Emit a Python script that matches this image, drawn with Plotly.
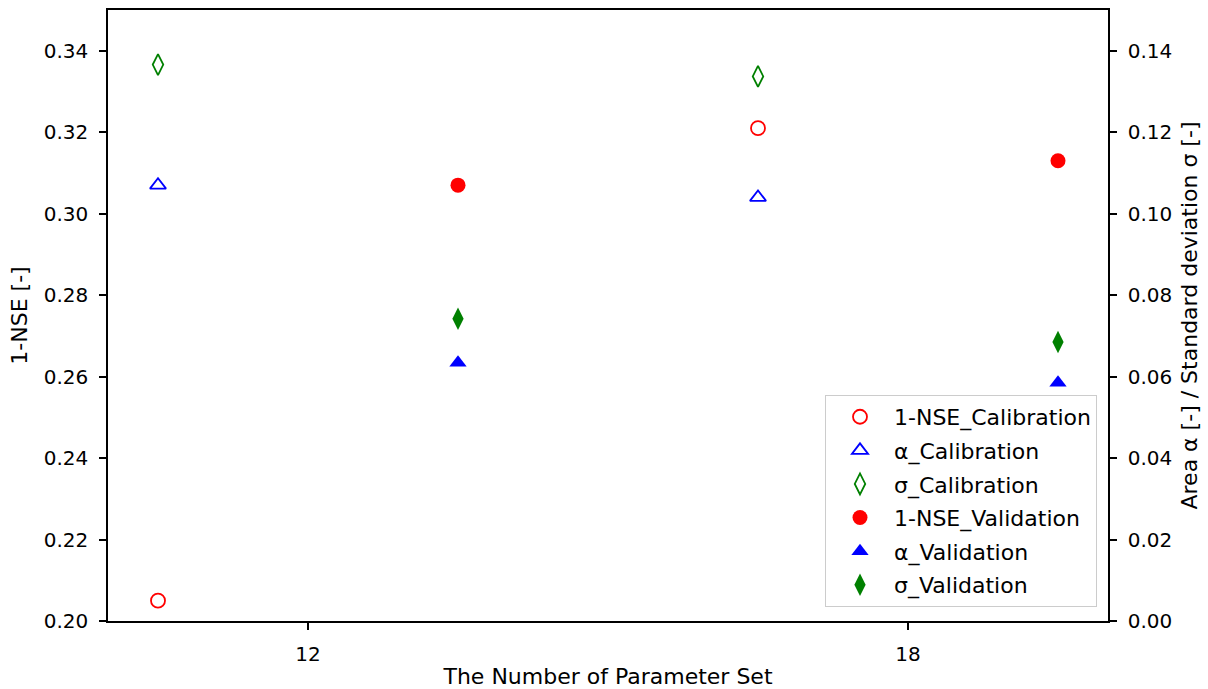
import plotly.graph_objects as go

# Data
x_cal = [10.5, 16.5]
x_val = [13.5, 19.5]
nse_cal = [0.205, 0.321]
nse_val = [0.307, 0.313]
alpha_cal = [0.107, 0.104]
sigma_cal = [0.1366, 0.1337]
alpha_val = [0.0634, 0.0585]
sigma_val = [0.0742, 0.0685]

x_ticks = [12, 18]
y1_ticks = [0.20, 0.22, 0.24, 0.26, 0.28, 0.30, 0.32, 0.34]
y2_ticks = [0.00, 0.02, 0.04, 0.06, 0.08, 0.10, 0.12, 0.14]

FONT = "DejaVu Sans"
FS_TICK = 20
FS_LAB = 22

fig = go.Figure()

def add(x, y, name, symbol, color, filled, axis, size):
    marker = dict(symbol=symbol, size=size, color=color,
                  line=dict(color=color, width=1.8 if not filled else 0))
    fig.add_trace(go.Scatter(x=x, y=y, mode="markers", name=name,
                             marker=marker, yaxis=axis, legendgroup=name))

add(x_cal, nse_cal, "1-NSE_Calibration", "circle-open", "red", False, "y", 14)
add(x_cal, alpha_cal, "α_Calibration", "triangle-up-open", "blue", False, "y2", 14)
add(x_cal, sigma_cal, "σ_Calibration", "diamond-tall-open", "green", False, "y2", 15)
add(x_val, nse_val, "1-NSE_Validation", "circle", "red", True, "y", 15)
add(x_val, alpha_val, "α_Validation", "triangle-up", "blue", True, "y2", 15)
add(x_val, sigma_val, "σ_Validation", "diamond-tall", "green", True, "y2", 16)

axis_common = dict(showline=True, linecolor="black", linewidth=1.5,
                   ticks="outside", ticklen=7, tickwidth=1.5, tickcolor="black",
                   showgrid=False, zeroline=False, automargin=False,
                   ticklabelstandoff=7,
                   tickfont=dict(family=FONT, size=FS_TICK, color="black"))

fig.update_layout(
    width=1208, height=689,
    margin=dict(l=108, r=100, t=10, b=68),
    paper_bgcolor="white", plot_bgcolor="white",
    font=dict(family=FONT, size=FS_TICK, color="black"),
    xaxis=dict(range=[10, 20], tickvals=x_ticks, ticktext=[str(v) for v in x_ticks],
               mirror=True,
               title=dict(text="The Number of Parameter Set", font=dict(family=FONT, size=FS_LAB), standoff=10),
               **axis_common),
    yaxis=dict(range=[0.20, 0.35], tickvals=y1_ticks, ticktext=[f"{v:.2f}" for v in y1_ticks],
               title=dict(text="1-NSE [-]", font=dict(family=FONT, size=FS_LAB), standoff=10),
               **axis_common),
    yaxis2=dict(range=[0.0, 0.15], tickvals=y2_ticks, ticktext=[f"{v:.2f}" for v in y2_ticks],
                overlaying="y", side="right",
                title=dict(text="Area α [-] / Standard deviation σ [-]", font=dict(family=FONT, size=FS_LAB), standoff=10),
                **axis_common),
    legend=dict(x=0.989, y=0.023, xanchor="right", yanchor="bottom",
                bgcolor="white", bordercolor="#cccccc", borderwidth=1,
                font=dict(family=FONT, size=FS_LAB, color="black"),
                itemwidth=58, tracegroupgap=2),
    showlegend=True,
)

fig.write_html("out.html")
